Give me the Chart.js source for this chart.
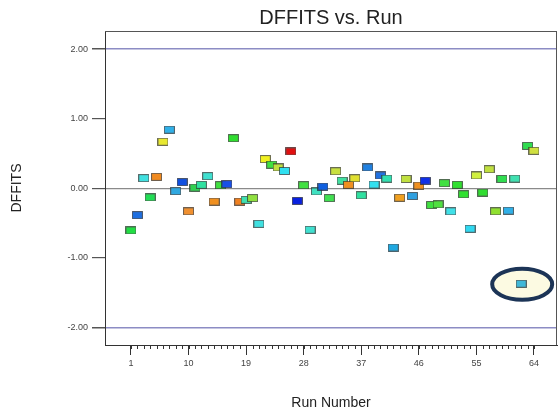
<!DOCTYPE html>
<html><head><meta charset="utf-8">
<script src="https://cdn.jsdelivr.net/npm/chart.js@4.4.1/dist/chart.umd.min.js"></script>
<style>html,body{margin:0;padding:0;background:#fff;overflow:hidden}#wrap{width:558px;height:412px;position:relative}</style>
</head><body><div id="wrap"><canvas id="c" width="558" height="412"></canvas></div>
<script>
const runs = [1,2,3,4,5,6,7,8,9,10,11,12,13,14,15,16,17,18,19,20,21,22,23,24,25,26,27,28,29,30,31,32,
  33,34,35,36,37,38,39,40,41,42,43,44,45,46,47,48,49,50,51,52,53,54,55,56,57,58,59,60,61,62,63,64];
const dffits = [
  -0.605, -0.385, 0.146, -0.13, 0.165, 0.67, 0.843, -0.04, 0.09, -0.33,
  0.01, 0.05, 0.175, -0.19, 0.045, 0.06, 0.72, -0.19, -0.165, -0.14,
  -0.51, 0.42, 0.34, 0.30, 0.25, 0.53, -0.18, 0.045, -0.595, -0.045,
  0.025, -0.14, 0.245, 0.11, 0.05, 0.145, -0.10, 0.30, 0.055, 0.185,
  0.14, -0.85, -0.135, 0.135, -0.11, 0.04, 0.11, -0.24, -0.23, 0.075,
  -0.33, 0.05, -0.085, -0.58, 0.185, -0.06, 0.275, -0.33, 0.135, -0.32,
  0.14, -1.37, 0.61, 0.54];
const pointColors = [
  '#22dd44','#1e6fe0','#40e0e0','#22dd55','#f08a20','#e8e830','#30b0e8','#30a8e0','#1050e0','#f09030',
  '#30d050','#30e0a0','#40e0d0','#f09020','#40e040','#1850e8','#30dd30','#f08020','#40e0b0','#90e040',
  '#40e0e0','#f0f020','#40e040','#c0e040','#30e0f0','#e01010','#0820e0','#40e040','#40e0d0','#40e0c0',
  '#1060e0','#40e050','#c8e040','#40e0a0','#f09020','#e0e030','#30e0a0','#2080e0','#30e0f0','#2070e0',
  '#30e0b0','#20a8e0','#f0a020','#c0e040','#30a0e0','#f09020','#1030e8','#40e040','#50e040','#40e040',
  '#40e0e8','#30e030','#30e030','#30d8f0','#d0f040','#30dd30','#c0e040','#90e030','#30dd50','#30b0e8',
  '#40e0b0','#40b8d8','#30dd50','#d0e040'];
const xTickLabels = [1,10,19,28,37,46,55,64];
const yTickLabels = [-2,-1,0,1,2];
const highlightRun = 62;

const FONT = "'Liberation Sans', Arial, sans-serif";

function makeMarker(color){
  const cv = document.createElement('canvas');
  cv.width = 11; cv.height = 8;
  const g = cv.getContext('2d');
  g.fillStyle = color;
  g.fillRect(0.5,0.5,10,7);
  g.strokeStyle = 'rgba(40,40,40,0.65)';
  g.lineWidth = 1;
  g.strokeRect(0.5,0.5,10,7);
  return cv;
}
const markers = pointColors.map(makeMarker);
const points = runs.map((r,i)=>({x:r, y:dffits[i]}));

const framePlugin = {
  id:'frame',
  beforeDatasetsDraw(chart){
    const {ctx, scales:{x,y}} = chart;
    const i = runs.indexOf(highlightRun);
    const px = x.getPixelForValue(runs[i]) + 1;
    const py = y.getPixelForValue(dffits[i]) + 0.5;
    ctx.save();
    ctx.beginPath();
    ctx.ellipse(px, py, 30, 15.5, 0, 0, Math.PI*2);
    ctx.fillStyle = '#fcfae2';
    ctx.fill();
    ctx.lineWidth = 4;
    ctx.strokeStyle = '#1c3456';
    ctx.stroke();
    ctx.restore();
  },
  afterDraw(chart){
    const {ctx, chartArea:a, scales:{x}} = chart;
    ctx.save();
    ctx.strokeStyle = '#555';
    ctx.lineWidth = 1;
    ctx.beginPath();
    ctx.moveTo(a.left, a.top+0.5); ctx.lineTo(a.right, a.top+0.5);
    ctx.moveTo(a.right-0.5, a.top); ctx.lineTo(a.right-0.5, a.bottom);
    ctx.stroke();
    ctx.strokeStyle = '#333';
    ctx.beginPath();
    runs.forEach(r=>{
      const px = Math.round(x.getPixelForValue(r))+0.5;
      ctx.moveTo(px, a.bottom); ctx.lineTo(px, a.bottom+4);
    });
    ctx.stroke();
    ctx.restore();
  }
};

new Chart(document.getElementById('c'), {
  type:'scatter',
  data:{datasets:[{
    data:points,
    pointStyle:markers,
    pointRadius:5,
    pointHoverRadius:5
  }]},
  options:{
    responsive:false, animation:false, devicePixelRatio:1,
    layout:{autoPadding:false, padding:{left:0,right:1,top:0,bottom:0}},
    plugins:{
      legend:{display:false}, tooltip:{enabled:false},
      title:{display:true, text:'DFFITS vs. Run', fullSize:false, color:'#222',
        font:{family:FONT, size:20, weight:'normal'}, padding:{top:6,bottom:1}}
    },
    scales:{
      x:{type:'linear', min:-3.06, max:67.6,
        afterBuildTicks(s){ s.ticks = xTickLabels.map(v=>({value:v})); },
        afterFit(s){ s.height = 67; s.paddingLeft = 0; s.paddingRight = 0; },
        border:{display:true, color:'#333', width:1},
        grid:{drawOnChartArea:false, drawTicks:true, tickLength:10, tickColor:'#333'},
        ticks:{color:'#444', font:{family:FONT, size:9}, padding:3, autoSkip:false, maxRotation:0,
          callback:v=>String(v)},
        title:{display:true, text:'Run Number', color:'#222', font:{family:FONT, size:14}, padding:{top:0,bottom:0}}
      },
      y:{type:'linear', min:-2.25, max:2.26,
        afterBuildTicks(s){ s.ticks = yTickLabels.map(v=>({value:v})); },
        afterFit(s){ s.width = 105; s.paddingTop = 0; s.paddingBottom = 0; },
        border:{display:true, color:'#333', width:1},
        grid:{drawOnChartArea:true, drawTicks:true, tickLength:13, tickColor:'#555',
          color:c=> (c.tick && Math.abs(c.tick.value)===2) ? '#8c8cc4' : (c.tick && c.tick.value===0 ? '#8a8a8a' : 'rgba(0,0,0,0)'),
          lineWidth:c=> (c.tick && Math.abs(c.tick.value)===2) ? 1.5 : 1.2},
        ticks:{color:'#444', font:{family:FONT, size:9}, padding:4,
          callback:v=>v.toFixed(2)},
        title:{display:true, text:'DFFITS', color:'#222', font:{family:FONT, size:14}, padding:{top:9,bottom:0}}
      }
    }
  },
  plugins:[framePlugin]
});
</script></body></html>
